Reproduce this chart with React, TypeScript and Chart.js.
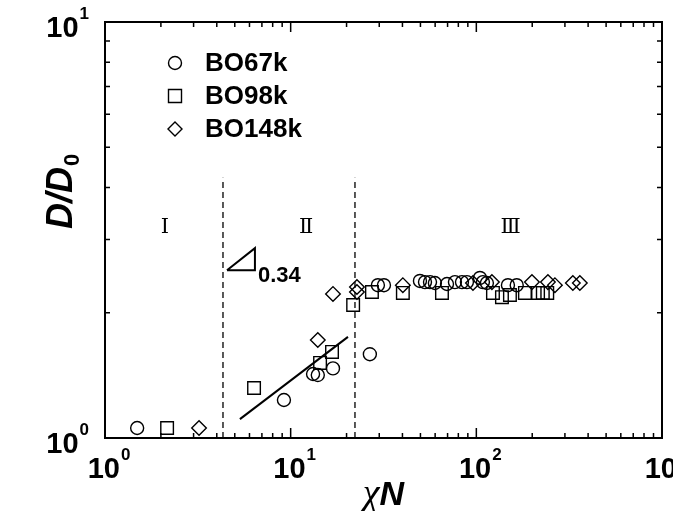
import React, { useEffect, useRef } from 'react';
import { Chart, registerables } from 'chart.js';

Chart.register(...registerables);

// ---- data ----
const seriesNames = ['BO67k', 'BO98k', 'BO148k'];
const seriesStyles = ['circle', 'rect', 'rectRot'];

const bo67kX = [1.49, 9.2, 13.2, 14.0, 16.9, 26.7, 29.5, 31.8, 49.7, 52.9, 56.3, 59.8, 69.5, 76.7, 83.7, 89.0, 104.6, 108.5, 114, 148, 165];
const bo67kY = [1.057, 1.234, 1.425, 1.417, 1.47, 1.59, 2.33, 2.33, 2.385, 2.37, 2.37, 2.358, 2.345, 2.37, 2.37, 2.37, 2.425, 2.37, 2.358, 2.33, 2.33];

const bo98kX = [2.16, 6.35, 14.4, 16.7, 21.7, 27.4, 40.2, 65.3, 122.9, 137.4, 151.7, 182.7, 215, 228, 241];
const bo98kY = [1.057, 1.319, 1.515, 1.61, 2.088, 2.244, 2.232, 2.232, 2.232, 2.18, 2.207, 2.232, 2.232, 2.232, 2.232];

const bo148kX = [3.21, 14.0, 16.9, 22.75, 22.75, 40.2, 95.9, 121.3, 199.3, 243, 265, 331, 361];
const bo148kY = [1.057, 1.72, 2.22, 2.307, 2.244, 2.33, 2.358, 2.37, 2.37, 2.37, 2.33, 2.358, 2.358];

const fitX = [5.33, 20.35];
const fitY = [1.11, 1.75];

const boundaryX = [4.32, 22.2];
const boundaryY = [1, 4.22];

const slopeX = [4.54, 6.42, 6.42, 4.54];
const slopeY = [2.53, 2.86, 2.53, 2.53];
const slopeLabel = '0.34';

const regionLabels = ['Ⅰ', 'Ⅱ', 'Ⅲ'];
const regionX = [2.1, 12.1, 153];
const regionY = 3.2;

const xTickExps = [0, 1, 2, 3];
const yTickExps = [0, 1];
const xMin = 1, xMax = 1000, yMin = 1, yMax = 10;

const xTitleParts = ['χ', 'N'];
const yTitleParts = ['D/D', '0'];

// ---- helpers ----
const zip = (xs: number[], ys: number[]) => xs.map((x, i) => ({ x, y: ys[i] }));
const SANS = '"Liberation Sans", Arial, sans-serif';

function decadeTicks(min: number, max: number) {
  const out: { v: number; major: boolean }[] = [];
  for (let d = Math.floor(Math.log10(min)); d <= Math.ceil(Math.log10(max)); d++) {
    for (let m = 1; m <= 9; m++) {
      const v = m * Math.pow(10, d);
      if (v >= min * 0.999 && v <= max * 1.001) out.push({ v, major: m === 1 });
    }
  }
  return out;
}

const framePlugin = {
  id: 'frame',
  afterDatasetsDraw(chart: any) {
    const { ctx, chartArea: a, scales } = chart;
    const xs = scales.x, ys = scales.y;
    ctx.save();
    ctx.strokeStyle = '#000';
    ctx.fillStyle = '#000';
    ctx.lineWidth = 2;
    ctx.strokeRect(a.left, a.top, a.right - a.left, a.bottom - a.top);

    ctx.lineWidth = 1.5;
    ctx.beginPath();
    for (const t of decadeTicks(xs.min, xs.max)) {
      const px = xs.getPixelForValue(t.v);
      const len = t.major ? 10 : 5;
      ctx.moveTo(px, a.bottom); ctx.lineTo(px, a.bottom - len);
      ctx.moveTo(px, a.top); ctx.lineTo(px, a.top + len);
    }
    for (const t of decadeTicks(ys.min, ys.max)) {
      const py = ys.getPixelForValue(t.v);
      const len = t.major ? 10 : 5;
      ctx.moveTo(a.left, py); ctx.lineTo(a.left + len, py);
      ctx.moveTo(a.right, py); ctx.lineTo(a.right - len, py);
    }
    ctx.stroke();

    // tick labels
    const bigFont = `bold 29px ${SANS}`;
    const supFont = `bold 17px ${SANS}`;
    ctx.textBaseline = 'alphabetic';
    ctx.textAlign = 'left';
    for (const e of xTickExps) {
      const px = xs.getPixelForValue(Math.pow(10, e));
      ctx.font = bigFont; const w1 = ctx.measureText('10').width;
      ctx.font = supFont; const w2 = ctx.measureText(String(e)).width;
      const x0 = px - (w1 + 1 + w2) / 2 + 4;
      ctx.font = bigFont; ctx.fillText('10', x0, a.bottom + 40);
      ctx.font = supFont; ctx.fillText(String(e), x0 + w1 + 1, a.bottom + 22);
    }
    for (const e of yTickExps) {
      const py = ys.getPixelForValue(Math.pow(10, e));
      ctx.font = bigFont; const w1 = ctx.measureText('10').width;
      ctx.font = supFont; const w2 = ctx.measureText(String(e)).width;
      const right = a.left - 16;
      const x0 = right - w2 - 1 - w1;
      ctx.font = bigFont; ctx.fillText('10', x0, py + 15);
      ctx.font = supFont; ctx.fillText(String(e), x0 + w1 + 1, py - 3);
    }

    // axis titles
    {
      const f1 = `italic 38px "Liberation Serif", "Times New Roman", serif`;
      const f2 = `italic bold 34px ${SANS}`;
      ctx.font = f1; const w1 = ctx.measureText(xTitleParts[0]).width;
      ctx.font = f2; const w2 = ctx.measureText(xTitleParts[1]).width;
      const cx = (a.left + a.right) / 2;
      const x0 = cx - (w1 + w2) / 2;
      const base = a.bottom + 67;
      ctx.font = f1; ctx.fillText(xTitleParts[0], x0, base);
      ctx.font = f2; ctx.fillText(xTitleParts[1], x0 + w1, base);
    }
    {
      const f1 = `italic bold 36px ${SANS}`;
      const f2 = `bold 22px ${SANS}`;
      ctx.save();
      ctx.translate(a.left - 33, a.top + 170);
      ctx.rotate(-Math.PI / 2);
      ctx.font = f1; const w1 = ctx.measureText(yTitleParts[0]).width;
      ctx.font = f2; const w2 = ctx.measureText(yTitleParts[1]).width;
      const x0 = -(w1 + w2) / 2;
      ctx.font = f1; ctx.fillText(yTitleParts[0], x0, 0);
      ctx.font = f2; ctx.fillText(yTitleParts[1], x0 + w1 + 1, 7);
      ctx.restore();
    }

    // region labels
    ctx.font = `21px "DejaVu Serif", "Liberation Serif", serif`;
    ctx.textAlign = 'center';
    ctx.textBaseline = 'middle';
    regionLabels.forEach((lab, i) => {
      ctx.fillText(lab, xs.getPixelForValue(regionX[i]), ys.getPixelForValue(regionY));
    });

    // slope label
    ctx.font = `bold 22px ${SANS}`;
    ctx.textAlign = 'left';
    ctx.textBaseline = 'alphabetic';
    ctx.fillText(slopeLabel, xs.getPixelForValue(slopeX[1]) + 3, ys.getPixelForValue(slopeY[2]) + 12);

    // legend
    ctx.lineWidth = 1.4;
    const lx = a.left + 70;
    const rows = [a.top + 41, a.top + 74, a.top + 107];
    seriesNames.forEach((name, i) => {
      const y = rows[i];
      ctx.beginPath();
      if (seriesStyles[i] === 'circle') ctx.arc(lx, y, 6.5, 0, Math.PI * 2);
      else if (seriesStyles[i] === 'rect') ctx.rect(lx - 6.5, y - 6.5, 13, 13);
      else { ctx.moveTo(lx, y - 7); ctx.lineTo(lx + 7, y); ctx.lineTo(lx, y + 7); ctx.lineTo(lx - 7, y); ctx.closePath(); }
      ctx.stroke();
      ctx.font = `bold 26px ${SANS}`;
      ctx.textBaseline = 'middle';
      ctx.fillText(name, lx + 30, y + 1);
    });
    ctx.restore();
  },
};

export default function App() {
  const ref = useRef<HTMLCanvasElement | null>(null);
  useEffect(() => {
    if (!ref.current) return;
    const markerBase = {
      type: 'scatter' as const,
      borderColor: '#000',
      backgroundColor: 'rgba(0,0,0,0)',
      borderWidth: 1.4,
      showLine: false,
    };
    const lineBase = {
      type: 'scatter' as const,
      showLine: true,
      borderColor: '#000',
      pointRadius: 0,
      fill: false,
    };
    const chart = new Chart(ref.current, {
      type: 'scatter',
      data: {
        datasets: [
          { ...markerBase, label: seriesNames[0], data: zip(bo67kX, bo67kY), pointStyle: 'circle', pointRadius: 6.5 },
          { ...markerBase, label: seriesNames[1], data: zip(bo98kX, bo98kY), pointStyle: 'rect', pointRadius: 8.9 },
          { ...markerBase, label: seriesNames[2], data: zip(bo148kX, bo148kY), pointStyle: 'rectRot', pointRadius: 7.3 },
          { ...lineBase, label: 'fit', data: zip(fitX, fitY), borderWidth: 2 },
          { ...lineBase, label: 'b1', data: zip([boundaryX[0], boundaryX[0]], boundaryY), borderWidth: 1.3, borderDash: [6, 4] },
          { ...lineBase, label: 'b2', data: zip([boundaryX[1], boundaryX[1]], boundaryY), borderWidth: 1.3, borderDash: [6, 4] },
          { ...lineBase, label: 'slope', data: zip(slopeX, slopeY), borderWidth: 2 },
        ],
      },
      options: {
        responsive: false,
        animation: false,
        layout: { padding: { left: 105, top: 22, right: 11, bottom: 73 } },
        scales: {
          x: { type: 'logarithmic', min: xMin, max: xMax, display: false },
          y: { type: 'logarithmic', min: yMin, max: yMax, display: false },
        },
        plugins: { legend: { display: false }, tooltip: { enabled: false } },
      },
      plugins: [framePlugin],
    });
    return () => chart.destroy();
  }, []);
  return (
    <div style={{ position: 'fixed', left: 0, top: 0, width: 673, height: 511, background: '#fff' }}>
      <canvas ref={ref} width={673} height={511} style={{ display: 'block' }} />
    </div>
  );
}
